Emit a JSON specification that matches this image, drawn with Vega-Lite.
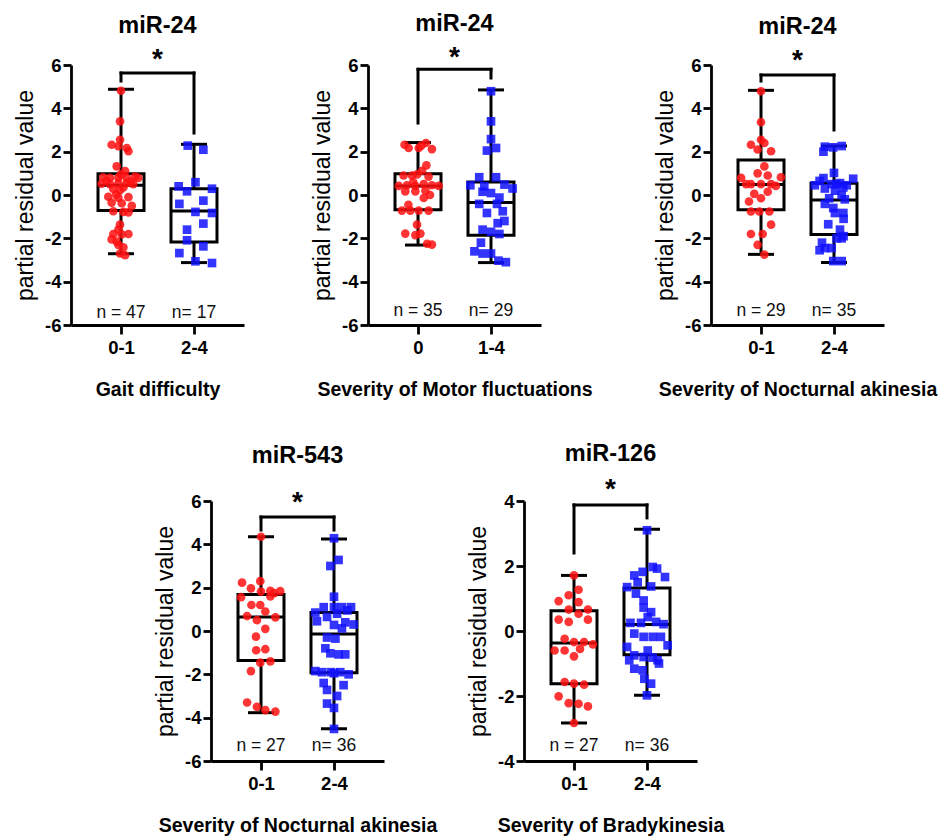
{
"$schema":"https://vega.github.io/schema/vega-lite/v6.json",
"padding":{"left":14,"top":11,"right":5,"bottom":2},
"background":"white",
"config":{
 "view":{"stroke":null},
 "font":"Liberation Sans",
 "axis":{"grid":false,"domainColor":"black","domainWidth":2.8,"tickColor":"black","tickWidth":2.8,"tickSize":8,"labelFont":"Liberation Sans","labelFontWeight":"bold","labelFontSize":18.5,"labelColor":"black","titleFont":"Liberation Sans","titleColor":"black","labelPadding":2},
 "axisY":{"titleFontWeight":"normal","titleFontSize":23,"titlePadding":7,"labelExpr":"replace(datum.label, '\u2212', '-')"},
 "axisX":{"titleFontWeight":"bold","titleFontSize":19.5,"labelAngle":0,"tickSize":9,"labelPadding":4,"titlePadding":24},
 "title":{"font":"Liberation Sans","fontSize":23.5,"fontWeight":"bold","color":"black","anchor":"middle","frame":"group","offset":9}
},
"datasets":{
"pts":[
{"p":1,"g":"0-1","v":4.81,"j":0},{"p":1,"g":"0-1","v":3.40,"j":-0.04},{"p":1,"g":"0-1","v":2.55,"j":-0.04},{"p":1,"g":"0-1","v":2.32,"j":-0.39},{"p":1,"g":"0-1","v":2.25,"j":-0.11},{"p":1,"g":"0-1","v":2.17,"j":0.24},{"p":1,"g":"0-1","v":2.02,"j":0.31},{"p":1,"g":"0-1","v":1.32,"j":-0.18},{"p":1,"g":"0-1","v":1.10,"j":0.17},{"p":1,"g":"0-1","v":0.82,"j":-0.74},{"p":1,"g":"0-1","v":0.79,"j":-0.46},{"p":1,"g":"0-1","v":0.80,"j":-0.11},{"p":1,"g":"0-1","v":0.78,"j":0.24},{"p":1,"g":"0-1","v":0.85,"j":0.58},{"p":1,"g":"0-1","v":0.79,"j":0.72},{"p":1,"g":"0-1","v":0.95,"j":0.0},{"p":1,"g":"0-1","v":0.52,"j":-0.81},{"p":1,"g":"0-1","v":0.50,"j":-0.46},{"p":1,"g":"0-1","v":0.55,"j":-0.11},{"p":1,"g":"0-1","v":0.55,"j":0.24},{"p":1,"g":"0-1","v":0.50,"j":0.51},{"p":1,"g":"0-1","v":0.62,"j":0.40},{"p":1,"g":"0-1","v":0.65,"j":-0.60},{"p":1,"g":"0-1","v":0.28,"j":-0.32},{"p":1,"g":"0-1","v":0.22,"j":-0.04},{"p":1,"g":"0-1","v":0.35,"j":0.10},{"p":1,"g":"0-1","v":0.02,"j":-0.20},{"p":1,"g":"0-1","v":-0.08,"j":-0.53},{"p":1,"g":"0-1","v":-0.12,"j":-0.11},{"p":1,"g":"0-1","v":-0.10,"j":0.31},{"p":1,"g":"0-1","v":-0.35,"j":-0.39},{"p":1,"g":"0-1","v":-0.38,"j":0.03},{"p":1,"g":"0-1","v":-0.50,"j":0.45},{"p":1,"g":"0-1","v":-0.75,"j":-0.32},{"p":1,"g":"0-1","v":-0.78,"j":0.10},{"p":1,"g":"0-1","v":-0.80,"j":0.31},{"p":1,"g":"0-1","v":-1.37,"j":-0.04},{"p":1,"g":"0-1","v":-1.60,"j":-0.11},{"p":1,"g":"0-1","v":-1.80,"j":-0.32},{"p":1,"g":"0-1","v":-1.82,"j":0.03},{"p":1,"g":"0-1","v":-1.80,"j":0.31},{"p":1,"g":"0-1","v":-2.05,"j":-0.39},{"p":1,"g":"0-1","v":-2.15,"j":-0.18},{"p":1,"g":"0-1","v":-2.30,"j":-0.11},{"p":1,"g":"0-1","v":-2.42,"j":0.10},{"p":1,"g":"0-1","v":-2.70,"j":-0.04},{"p":1,"g":"0-1","v":-2.78,"j":0.17},
{"p":1,"g":"2-4","v":2.28,"j":-0.26},{"p":1,"g":"2-4","v":2.09,"j":0.39},{"p":1,"g":"2-4","v":0.59,"j":0.06},{"p":1,"g":"2-4","v":0.40,"j":-0.64},{"p":1,"g":"2-4","v":0.17,"j":-0.29},{"p":1,"g":"2-4","v":0.29,"j":0.75},{"p":1,"g":"2-4","v":-0.41,"j":-0.61},{"p":1,"g":"2-4","v":-0.26,"j":0.39},{"p":1,"g":"2-4","v":-0.78,"j":0.06},{"p":1,"g":"2-4","v":-0.83,"j":0.75},{"p":1,"g":"2-4","v":-1.32,"j":0.39},{"p":1,"g":"2-4","v":-1.6,"j":-0.29},{"p":1,"g":"2-4","v":-2.09,"j":-0.29},{"p":1,"g":"2-4","v":-2.37,"j":0.39},{"p":1,"g":"2-4","v":-2.68,"j":-0.61},{"p":1,"g":"2-4","v":-3.06,"j":0.06},{"p":1,"g":"2-4","v":-3.14,"j":0.75},
{"p":2,"g":"0","v":2.32,"j":-0.56},{"p":2,"g":"0","v":2.17,"j":-0.39},{"p":2,"g":"0","v":2.17,"j":0.03},{"p":2,"g":"0","v":2.40,"j":0.33},{"p":2,"g":"0","v":2.12,"j":0.58},{"p":2,"g":"0","v":2.28,"j":0.14},{"p":2,"g":"0","v":1.37,"j":0.35},{"p":2,"g":"0","v":1.12,"j":0.17},{"p":2,"g":"0","v":0.9,"j":-0.6},{"p":2,"g":"0","v":0.9,"j":-0.25},{"p":2,"g":"0","v":0.95,"j":-0.04},{"p":2,"g":"0","v":0.85,"j":0.44},{"p":2,"g":"0","v":0.42,"j":-0.8},{"p":2,"g":"0","v":0.45,"j":-0.46},{"p":2,"g":"0","v":0.42,"j":-0.11},{"p":2,"g":"0","v":0.5,"j":0.24},{"p":2,"g":"0","v":0.45,"j":0.58},{"p":2,"g":"0","v":0.42,"j":0.86},{"p":2,"g":"0","v":0.17,"j":-0.53},{"p":2,"g":"0","v":0.17,"j":-0.11},{"p":2,"g":"0","v":0.2,"j":0.31},{"p":2,"g":"0","v":-0.14,"j":0.24},{"p":2,"g":"0","v":-0.72,"j":-0.67},{"p":2,"g":"0","v":-0.72,"j":-0.32},{"p":2,"g":"0","v":-0.72,"j":0.03},{"p":2,"g":"0","v":-0.72,"j":0.44},{"p":2,"g":"0","v":-1.37,"j":-0.04},{"p":2,"g":"0","v":-1.78,"j":-0.53},{"p":2,"g":"0","v":-1.78,"j":0.1},{"p":2,"g":"0","v":-1.85,"j":-0.11},{"p":2,"g":"0","v":-2.29,"j":0.58},{"p":2,"g":"0","v":-2.25,"j":0.38},{"p":2,"g":"0","v":0.6,"j":-0.2},{"p":2,"g":"0","v":0.0,"j":0.5},{"p":2,"g":"0","v":-0.45,"j":-0.4},
{"p":2,"g":"1-4","v":4.79,"j":0},{"p":2,"g":"1-4","v":3.40,"j":0},{"p":2,"g":"1-4","v":2.58,"j":0},{"p":2,"g":"1-4","v":2.17,"j":0.21},{"p":2,"g":"1-4","v":2.05,"j":-0.17},{"p":2,"g":"1-4","v":0.82,"j":-0.49},{"p":2,"g":"1-4","v":0.82,"j":0.21},{"p":2,"g":"1-4","v":0.45,"j":-0.86},{"p":2,"g":"1-4","v":0.40,"j":-0.28},{"p":2,"g":"1-4","v":0.48,"j":0.56},{"p":2,"g":"1-4","v":0.3,"j":0.9},{"p":2,"g":"1-4","v":0.09,"j":0},{"p":2,"g":"1-4","v":0.15,"j":-0.35},{"p":2,"g":"1-4","v":-0.12,"j":0.35},{"p":2,"g":"1-4","v":-0.41,"j":-0.49},{"p":2,"g":"1-4","v":-0.41,"j":0.25},{"p":2,"g":"1-4","v":-0.83,"j":-0.17},{"p":2,"g":"1-4","v":-0.75,"j":0.49},{"p":2,"g":"1-4","v":-1.3,"j":0.28},{"p":2,"g":"1-4","v":-1.6,"j":-0.35},{"p":2,"g":"1-4","v":-1.7,"j":0},{"p":2,"g":"1-4","v":-1.8,"j":0.35},{"p":2,"g":"1-4","v":-2.6,"j":-0.69},{"p":2,"g":"1-4","v":-2.7,"j":-0.35},{"p":2,"g":"1-4","v":-2.7,"j":0},{"p":2,"g":"1-4","v":-3.03,"j":0.31},{"p":2,"g":"1-4","v":-3.1,"j":0.62},{"p":2,"g":"1-4","v":-2.2,"j":-0.42},{"p":2,"g":"1-4","v":-1.2,"j":0.56},
{"p":3,"g":"0-1","v":4.79,"j":0},{"p":3,"g":"0-1","v":3.36,"j":0},{"p":3,"g":"0-1","v":2.55,"j":0},{"p":3,"g":"0-1","v":2.32,"j":-0.42},{"p":3,"g":"0-1","v":2.4,"j":0.14},{"p":3,"g":"0-1","v":2.1,"j":-0.14},{"p":3,"g":"0-1","v":2.02,"j":0.42},{"p":3,"g":"0-1","v":1.32,"j":0.14},{"p":3,"g":"0-1","v":1.0,"j":-0.14},{"p":3,"g":"0-1","v":0.9,"j":0.28},{"p":3,"g":"0-1","v":0.79,"j":-0.83},{"p":3,"g":"0-1","v":0.82,"j":0.83},{"p":3,"g":"0-1","v":0.5,"j":-0.42},{"p":3,"g":"0-1","v":0.5,"j":0},{"p":3,"g":"0-1","v":0.5,"j":0.42},{"p":3,"g":"0-1","v":0.05,"j":-0.28},{"p":3,"g":"0-1","v":0.15,"j":0.28},{"p":3,"g":"0-1","v":-0.15,"j":0},{"p":3,"g":"0-1","v":-0.76,"j":-0.42},{"p":3,"g":"0-1","v":-0.76,"j":-0.07},{"p":3,"g":"0-1","v":-0.76,"j":0.35},{"p":3,"g":"0-1","v":-1.37,"j":0.42},{"p":3,"g":"0-1","v":-1.8,"j":-0.42},{"p":3,"g":"0-1","v":-1.8,"j":0.07},{"p":3,"g":"0-1","v":-2.3,"j":-0.14},{"p":3,"g":"0-1","v":-2.75,"j":0.14},{"p":3,"g":"0-1","v":0.5,"j":-0.62},{"p":3,"g":"0-1","v":0.42,"j":0.62},{"p":3,"g":"0-1","v":-0.3,"j":-0.5},
{"p":3,"g":"2-4","v":2.23,"j":-0.38},{"p":3,"g":"2-4","v":2.2,"j":-0.03},{"p":3,"g":"2-4","v":2.26,"j":0.32},{"p":3,"g":"2-4","v":2.0,"j":-0.44},{"p":3,"g":"2-4","v":1.02,"j":0},{"p":3,"g":"2-4","v":0.45,"j":-0.8},{"p":3,"g":"2-4","v":0.78,"j":-0.44},{"p":3,"g":"2-4","v":0.5,"j":-0.1},{"p":3,"g":"2-4","v":0.55,"j":0.25},{"p":3,"g":"2-4","v":0.75,"j":0.8},{"p":3,"g":"2-4","v":0.45,"j":0.53},{"p":3,"g":"2-4","v":0.3,"j":-0.38},{"p":3,"g":"2-4","v":0.2,"j":0.04},{"p":3,"g":"2-4","v":0.35,"j":0.39},{"p":3,"g":"2-4","v":0.0,"j":0.32},{"p":3,"g":"2-4","v":-0.41,"j":-0.38},{"p":3,"g":"2-4","v":-0.6,"j":-0.03},{"p":3,"g":"2-4","v":-0.83,"j":0.04},{"p":3,"g":"2-4","v":-0.83,"j":0.39},{"p":3,"g":"2-4","v":-1.35,"j":-0.24},{"p":3,"g":"2-4","v":-1.6,"j":0.25},{"p":3,"g":"2-4","v":-2.0,"j":0.11},{"p":3,"g":"2-4","v":-2.0,"j":0.32},{"p":3,"g":"2-4","v":-2.45,"j":-0.38},{"p":3,"g":"2-4","v":-2.45,"j":-0.1},{"p":3,"g":"2-4","v":-2.55,"j":-0.6},{"p":3,"g":"2-4","v":-3.05,"j":-0.03},{"p":3,"g":"2-4","v":-3.05,"j":0.32},{"p":3,"g":"2-4","v":-2.2,"j":-0.5},{"p":3,"g":"2-4","v":-1.9,"j":0.4},{"p":3,"g":"2-4","v":0.65,"j":-0.6},{"p":3,"g":"2-4","v":0.5,"j":0.1},{"p":3,"g":"2-4","v":-0.2,"j":0.45},{"p":3,"g":"2-4","v":-0.15,"j":-0.2},{"p":3,"g":"2-4","v":-1.1,"j":0.4},
{"p":4,"g":"0-1","v":4.35,"j":0},{"p":4,"g":"0-1","v":2.23,"j":-0.79},{"p":4,"g":"0-1","v":2.3,"j":-0.03},{"p":4,"g":"0-1","v":1.97,"j":-0.42},{"p":4,"g":"0-1","v":1.82,"j":0},{"p":4,"g":"0-1","v":1.85,"j":0.39},{"p":4,"g":"0-1","v":1.84,"j":0.8},{"p":4,"g":"0-1","v":1.56,"j":-0.83},{"p":4,"g":"0-1","v":1.6,"j":0.39},{"p":4,"g":"0-1","v":1.2,"j":-0.4},{"p":4,"g":"0-1","v":1.2,"j":-0.03},{"p":4,"g":"0-1","v":0.9,"j":0.18},{"p":4,"g":"0-1","v":0.69,"j":-0.58},{"p":4,"g":"0-1","v":0.63,"j":0.6},{"p":4,"g":"0-1","v":0.5,"j":-0.17},{"p":4,"g":"0-1","v":0.1,"j":0.18},{"p":4,"g":"0-1","v":-0.26,"j":-0.21},{"p":4,"g":"0-1","v":-0.84,"j":0.18},{"p":4,"g":"0-1","v":-1.46,"j":-0.03},{"p":4,"g":"0-1","v":-1.4,"j":0.39},{"p":4,"g":"0-1","v":-1.85,"j":-0.42},{"p":4,"g":"0-1","v":-3.3,"j":-0.58},{"p":4,"g":"0-1","v":-3.5,"j":-0.17},{"p":4,"g":"0-1","v":-3.65,"j":0.18},{"p":4,"g":"0-1","v":-3.72,"j":0.6},{"p":4,"g":"0-1","v":-0.89,"j":-0.2},{"p":4,"g":"0-1","v":1.75,"j":0.55},
{"p":4,"g":"2-4","v":4.28,"j":0},{"p":4,"g":"2-4","v":3.28,"j":0.19},{"p":4,"g":"2-4","v":3.0,"j":-0.15},{"p":4,"g":"2-4","v":1.58,"j":0},{"p":4,"g":"2-4","v":1.1,"j":-0.43},{"p":4,"g":"2-4","v":1.1,"j":0},{"p":4,"g":"2-4","v":1.1,"j":0.33},{"p":4,"g":"2-4","v":1.1,"j":0.71},{"p":4,"g":"2-4","v":0.85,"j":-0.78},{"p":4,"g":"2-4","v":0.65,"j":-0.29},{"p":4,"g":"2-4","v":0.8,"j":0.13},{"p":4,"g":"2-4","v":0.4,"j":0.47},{"p":4,"g":"2-4","v":0.3,"j":0.82},{"p":4,"g":"2-4","v":0.45,"j":-0.71},{"p":4,"g":"2-4","v":0.12,"j":0.33},{"p":4,"g":"2-4","v":0.28,"j":0},{"p":4,"g":"2-4","v":-0.3,"j":-0.29},{"p":4,"g":"2-4","v":-0.35,"j":0.06},{"p":4,"g":"2-4","v":-0.8,"j":-0.36},{"p":4,"g":"2-4","v":-1.03,"j":-0.15},{"p":4,"g":"2-4","v":-1.08,"j":0.19},{"p":4,"g":"2-4","v":-1.08,"j":0.47},{"p":4,"g":"2-4","v":-1.9,"j":-0.5},{"p":4,"g":"2-4","v":-1.9,"j":-0.13},{"p":4,"g":"2-4","v":-1.9,"j":0.26},{"p":4,"g":"2-4","v":-1.85,"j":-0.78},{"p":4,"g":"2-4","v":-2.0,"j":0.61},{"p":4,"g":"2-4","v":-2.72,"j":-0.29},{"p":4,"g":"2-4","v":-3.0,"j":0.13},{"p":4,"g":"2-4","v":-3.35,"j":-0.29},{"p":4,"g":"2-4","v":-3.55,"j":0},{"p":4,"g":"2-4","v":-4.52,"j":0},{"p":4,"g":"2-4","v":-2.4,"j":-0.43},{"p":4,"g":"2-4","v":-2.5,"j":0.4},{"p":4,"g":"2-4","v":0.95,"j":0.55},{"p":4,"g":"2-4","v":-1.95,"j":0.0},
{"p":5,"g":"0-1","v":1.71,"j":0},{"p":5,"g":"0-1","v":1.27,"j":0.19},{"p":5,"g":"0-1","v":1.1,"j":-0.22},{"p":5,"g":"0-1","v":0.92,"j":-0.64},{"p":5,"g":"0-1","v":0.89,"j":0.19},{"p":5,"g":"0-1","v":0.66,"j":-0.22},{"p":5,"g":"0-1","v":0.66,"j":0.58},{"p":5,"g":"0-1","v":0.35,"j":-0.64},{"p":5,"g":"0-1","v":0.28,"j":-0.22},{"p":5,"g":"0-1","v":0.53,"j":0.19},{"p":5,"g":"0-1","v":0.35,"j":0.58},{"p":5,"g":"0-1","v":-0.24,"j":-0.39},{"p":5,"g":"0-1","v":-0.34,"j":0},{"p":5,"g":"0-1","v":-0.34,"j":0.42},{"p":5,"g":"0-1","v":-0.41,"j":0.79},{"p":5,"g":"0-1","v":-0.6,"j":-0.81},{"p":5,"g":"0-1","v":-0.6,"j":-0.39},{"p":5,"g":"0-1","v":-0.78,"j":0},{"p":5,"g":"0-1","v":-1.57,"j":-0.39},{"p":5,"g":"0-1","v":-1.65,"j":0.42},{"p":5,"g":"0-1","v":-2.01,"j":-0.64},{"p":5,"g":"0-1","v":-2.22,"j":-0.22},{"p":5,"g":"0-1","v":-2.24,"j":0.19},{"p":5,"g":"0-1","v":-2.32,"j":0.58},{"p":5,"g":"0-1","v":-2.83,"j":0},{"p":5,"g":"0-1","v":-1.62,"j":0},{"p":5,"g":"0-1","v":-0.55,"j":0.25},
{"p":5,"g":"2-4","v":3.1,"j":0},{"p":5,"g":"2-4","v":1.71,"j":-0.53},{"p":5,"g":"2-4","v":1.82,"j":-0.18},{"p":5,"g":"2-4","v":1.97,"j":0.24},{"p":5,"g":"2-4","v":1.92,"j":0.42},{"p":5,"g":"2-4","v":1.66,"j":0.75},{"p":5,"g":"2-4","v":1.35,"j":-0.83},{"p":5,"g":"2-4","v":1.37,"j":0.17},{"p":5,"g":"2-4","v":1.15,"j":-0.46},{"p":5,"g":"2-4","v":0.94,"j":-0.14},{"p":5,"g":"2-4","v":0.72,"j":-0.14},{"p":5,"g":"2-4","v":0.58,"j":0.17},{"p":5,"g":"2-4","v":0.43,"j":0.03},{"p":5,"g":"2-4","v":0.25,"j":-0.69},{"p":5,"g":"2-4","v":0.25,"j":-0.25},{"p":5,"g":"2-4","v":0.28,"j":0.38},{"p":5,"g":"2-4","v":0.21,"j":0.69},{"p":5,"g":"2-4","v":-0.08,"j":-0.53},{"p":5,"g":"2-4","v":-0.18,"j":-0.14},{"p":5,"g":"2-4","v":-0.18,"j":0.24},{"p":5,"g":"2-4","v":-0.18,"j":0.58},{"p":5,"g":"2-4","v":-0.44,"j":0.86},{"p":5,"g":"2-4","v":-0.49,"j":-0.83},{"p":5,"g":"2-4","v":-0.75,"j":-0.53},{"p":5,"g":"2-4","v":-0.8,"j":-0.14},{"p":5,"g":"2-4","v":-0.82,"j":0.24},{"p":5,"g":"2-4","v":-0.9,"j":0.44},{"p":5,"g":"2-4","v":-1.16,"j":-0.53},{"p":5,"g":"2-4","v":-1.21,"j":-0.18},{"p":5,"g":"2-4","v":-1.47,"j":-0.11},{"p":5,"g":"2-4","v":-1.62,"j":0.17},{"p":5,"g":"2-4","v":-1.98,"j":0},{"p":5,"g":"2-4","v":1.5,"j":-0.39},{"p":5,"g":"2-4","v":-1.0,"j":0.5},{"p":5,"g":"2-4","v":-0.6,"j":0.03},{"p":5,"g":"2-4","v":-0.9,"j":-0.74}
],
"box":[
{"p":1,"g":"0-1","min":-2.71,"q1":-0.71,"med":0.45,"q3":0.98,"max":4.88},
{"p":1,"g":"2-4","min":-3.12,"q1":-2.17,"med":-0.74,"q3":0.29,"max":2.34},
{"p":2,"g":"0","min":-2.31,"q1":-0.68,"med":0.42,"q3":0.98,"max":2.42},
{"p":2,"g":"1-4","min":-3.12,"q1":-1.86,"med":-0.35,"q3":0.6,"max":4.85},
{"p":3,"g":"0-1","min":-2.74,"q1":-0.68,"med":0.49,"q3":1.62,"max":4.83},
{"p":3,"g":"2-4","min":-3.12,"q1":-1.82,"med":-0.23,"q3":0.54,"max":2.26},
{"p":4,"g":"0-1","min":-3.77,"q1":-1.36,"med":0.65,"q3":1.69,"max":4.35},
{"p":4,"g":"2-4","min":-4.51,"q1":-1.93,"med":-0.14,"q3":0.85,"max":4.25},
{"p":5,"g":"0-1","min":-2.83,"q1":-1.62,"med":-0.37,"q3":0.62,"max":1.71},
{"p":5,"g":"2-4","min":-1.98,"q1":-0.73,"med":0.2,"q3":1.32,"max":3.13}
],
"brk":[
{"p":1,"a":"0-1","b":"2-4","top":5.63,"la":5.26,"lb":2.86,"s":6.5},
{"p":2,"a":"0","b":"1-4","top":5.8,"la":3.32,"lb":5.4,"s":6.6},
{"p":3,"a":"0-1","b":"2-4","top":5.54,"la":5.26,"lb":3.0,"s":6.46},
{"p":4,"a":"0-1","b":"2-4","top":5.26,"la":4.66,"lb":4.66,"s":6.18},
{"p":5,"a":"0-1","b":"2-4","top":3.88,"la":2.4,"lb":3.48,"s":4.52}
],
"lab":[
{"p":1,"g":"0-1","t":"n = 47","y":-5.3},{"p":1,"g":"2-4","t":"n= 17","y":-5.3},
{"p":2,"g":"0","t":"n = 35","y":-5.2},{"p":2,"g":"1-4","t":"n= 29","y":-5.2},
{"p":3,"g":"0-1","t":"n = 29","y":-5.2},{"p":3,"g":"2-4","t":"n= 35","y":-5.2},
{"p":4,"g":"0-1","t":"n = 27","y":-5.17},{"p":4,"g":"2-4","t":"n= 36","y":-5.17},
{"p":5,"g":"0-1","t":"n = 27","y":-3.45},{"p":5,"g":"2-4","t":"n= 36","y":-3.45}
]
},
"vconcat":[
{"hconcat":[
 {"width":173,"height":260,"title":{"text":"miR-24"},
  "encoding":{"x":{"field":"g","type":"nominal","scale":{"type":"point","padding":0.685},"axis":{"title":"Gait difficulty"}}},
  "layer":[
   {"data":{"name":"box"},"transform":[{"filter":"datum.p==1"}],"mark":{"type":"rule","strokeWidth":3,"color":"black"},"encoding":{"y":{"field":"min","type":"quantitative","scale":{"domain":[-6,6],"nice":false},"axis":{"title":"partial residual value","values":[-6,-4,-2,0,2,4,6]}},"y2":{"field":"max"}}},
   {"data":{"name":"box"},"transform":[{"filter":"datum.p==1"}],"mark":{"type":"bar","size":46,"fill":"white","stroke":"black","strokeWidth":3},"encoding":{"y":{"field":"q1","type":"quantitative"},"y2":{"field":"q3"}}},
   {"data":{"name":"box"},"transform":[{"filter":"datum.p==1"}],"mark":{"type":"tick","size":46,"thickness":3,"color":"black","opacity":1},"encoding":{"y":{"field":"med","type":"quantitative"}}},
   {"data":{"name":"box"},"transform":[{"filter":"datum.p==1"}],"mark":{"type":"tick","size":26,"thickness":3,"color":"black","opacity":1},"encoding":{"y":{"field":"min","type":"quantitative"}}},
   {"data":{"name":"box"},"transform":[{"filter":"datum.p==1"}],"mark":{"type":"tick","size":26,"thickness":3,"color":"black","opacity":1},"encoding":{"y":{"field":"max","type":"quantitative"}}},
   {"data":{"name":"pts"},"transform":[{"filter":"datum.p==1"}],"mark":{"type":"point","filled":true,"size":75,"opacity":0.85,"strokeWidth":0},"encoding":{"y":{"field":"v","type":"quantitative"},"xOffset":{"field":"j","type":"quantitative","scale":{"domain":[-1,1],"range":[-24,24]}},"color":{"field":"g","type":"nominal","scale":{"domain":["0","0-1","1-4","2-4"],"range":["#ff1010","#ff1010","#1010ff","#1010ff"]},"legend":null},"shape":{"field":"g","type":"nominal","scale":{"domain":["0","0-1","1-4","2-4"],"range":["circle","circle","square","square"]},"legend":null}}},
   {"data":{"name":"brk"},"transform":[{"filter":"datum.p==1"}],"mark":{"type":"rule","strokeWidth":3,"color":"black","strokeCap":"square"},"encoding":{"x":{"field":"a","type":"nominal"},"x2":{"field":"b"},"y":{"field":"top","type":"quantitative"}}},
   {"data":{"name":"brk"},"transform":[{"filter":"datum.p==1"}],"mark":{"type":"rule","strokeWidth":3,"color":"black","strokeCap":"square"},"encoding":{"x":{"field":"a","type":"nominal"},"y":{"field":"top","type":"quantitative"},"y2":{"field":"la"}}},
   {"data":{"name":"brk"},"transform":[{"filter":"datum.p==1"}],"mark":{"type":"rule","strokeWidth":3,"color":"black","strokeCap":"square"},"encoding":{"x":{"field":"b","type":"nominal"},"y":{"field":"top","type":"quantitative"},"y2":{"field":"lb"}}},
   {"data":{"name":"brk"},"transform":[{"filter":"datum.p==1"}],"mark":{"type":"text","text":"*","fontSize":28,"fontWeight":"bold","dx":36.5,"dy":6,"baseline":"middle","color":"black"},"encoding":{"x":{"field":"a","type":"nominal"},"y":{"field":"s","type":"quantitative"}}},
   {"data":{"name":"lab"},"transform":[{"filter":"datum.p==1"}],"mark":{"type":"text","fontSize":17.5,"color":"#111","baseline":"middle","dy":3},"encoding":{"x":{"field":"g","type":"nominal"},"y":{"field":"y","type":"quantitative"},"text":{"field":"t"}}}
  ]},
 {"hconcat":[
  {"width":173,"height":260,"title":{"text":"miR-24"},
   "encoding":{"x":{"field":"g","type":"nominal","scale":{"type":"point","padding":0.685},"axis":{"title":"Severity of Motor fluctuations"}}},
   "layer":[
    {"data":{"name":"box"},"transform":[{"filter":"datum.p==2"}],"mark":{"type":"rule","strokeWidth":3,"color":"black"},"encoding":{"y":{"field":"min","type":"quantitative","scale":{"domain":[-6,6],"nice":false},"axis":{"title":"partial residual value","values":[-6,-4,-2,0,2,4,6]}},"y2":{"field":"max"}}},
    {"data":{"name":"box"},"transform":[{"filter":"datum.p==2"}],"mark":{"type":"bar","size":46,"fill":"white","stroke":"black","strokeWidth":3},"encoding":{"y":{"field":"q1","type":"quantitative"},"y2":{"field":"q3"}}},
    {"data":{"name":"box"},"transform":[{"filter":"datum.p==2"}],"mark":{"type":"tick","size":46,"thickness":3,"color":"black","opacity":1},"encoding":{"y":{"field":"med","type":"quantitative"}}},
    {"data":{"name":"box"},"transform":[{"filter":"datum.p==2"}],"mark":{"type":"tick","size":26,"thickness":3,"color":"black","opacity":1},"encoding":{"y":{"field":"min","type":"quantitative"}}},
    {"data":{"name":"box"},"transform":[{"filter":"datum.p==2"}],"mark":{"type":"tick","size":26,"thickness":3,"color":"black","opacity":1},"encoding":{"y":{"field":"max","type":"quantitative"}}},
    {"data":{"name":"pts"},"transform":[{"filter":"datum.p==2"}],"mark":{"type":"point","filled":true,"size":75,"opacity":0.85,"strokeWidth":0},"encoding":{"y":{"field":"v","type":"quantitative"},"xOffset":{"field":"j","type":"quantitative","scale":{"domain":[-1,1],"range":[-24,24]}},"color":{"field":"g","type":"nominal","scale":{"domain":["0","0-1","1-4","2-4"],"range":["#ff1010","#ff1010","#1010ff","#1010ff"]},"legend":null},"shape":{"field":"g","type":"nominal","scale":{"domain":["0","0-1","1-4","2-4"],"range":["circle","circle","square","square"]},"legend":null}}},
    {"data":{"name":"brk"},"transform":[{"filter":"datum.p==2"}],"mark":{"type":"rule","strokeWidth":3,"color":"black","strokeCap":"square"},"encoding":{"x":{"field":"a","type":"nominal"},"x2":{"field":"b"},"y":{"field":"top","type":"quantitative"}}},
    {"data":{"name":"brk"},"transform":[{"filter":"datum.p==2"}],"mark":{"type":"rule","strokeWidth":3,"color":"black","strokeCap":"square"},"encoding":{"x":{"field":"a","type":"nominal"},"y":{"field":"top","type":"quantitative"},"y2":{"field":"la"}}},
    {"data":{"name":"brk"},"transform":[{"filter":"datum.p==2"}],"mark":{"type":"rule","strokeWidth":3,"color":"black","strokeCap":"square"},"encoding":{"x":{"field":"b","type":"nominal"},"y":{"field":"top","type":"quantitative"},"y2":{"field":"lb"}}},
    {"data":{"name":"brk"},"transform":[{"filter":"datum.p==2"}],"mark":{"type":"text","text":"*","fontSize":28,"fontWeight":"bold","dx":36.5,"dy":6,"baseline":"middle","color":"black"},"encoding":{"x":{"field":"a","type":"nominal"},"y":{"field":"s","type":"quantitative"}}},
    {"data":{"name":"lab"},"transform":[{"filter":"datum.p==2"}],"mark":{"type":"text","fontSize":17.5,"color":"#111","baseline":"middle","dy":3},"encoding":{"x":{"field":"g","type":"nominal"},"y":{"field":"y","type":"quantitative"},"text":{"field":"t"}}}
   ]},
  {"width":173,"height":260,"title":{"text":"miR-24"},
   "encoding":{"x":{"field":"g","type":"nominal","scale":{"type":"point","padding":0.685},"axis":{"title":"Severity of Nocturnal akinesia"}}},
   "layer":[
    {"data":{"name":"box"},"transform":[{"filter":"datum.p==3"}],"mark":{"type":"rule","strokeWidth":3,"color":"black"},"encoding":{"y":{"field":"min","type":"quantitative","scale":{"domain":[-6,6],"nice":false},"axis":{"title":"partial residual value","values":[-6,-4,-2,0,2,4,6]}},"y2":{"field":"max"}}},
    {"data":{"name":"box"},"transform":[{"filter":"datum.p==3"}],"mark":{"type":"bar","size":46,"fill":"white","stroke":"black","strokeWidth":3},"encoding":{"y":{"field":"q1","type":"quantitative"},"y2":{"field":"q3"}}},
    {"data":{"name":"box"},"transform":[{"filter":"datum.p==3"}],"mark":{"type":"tick","size":46,"thickness":3,"color":"black","opacity":1},"encoding":{"y":{"field":"med","type":"quantitative"}}},
    {"data":{"name":"box"},"transform":[{"filter":"datum.p==3"}],"mark":{"type":"tick","size":26,"thickness":3,"color":"black","opacity":1},"encoding":{"y":{"field":"min","type":"quantitative"}}},
    {"data":{"name":"box"},"transform":[{"filter":"datum.p==3"}],"mark":{"type":"tick","size":26,"thickness":3,"color":"black","opacity":1},"encoding":{"y":{"field":"max","type":"quantitative"}}},
    {"data":{"name":"pts"},"transform":[{"filter":"datum.p==3"}],"mark":{"type":"point","filled":true,"size":75,"opacity":0.85,"strokeWidth":0},"encoding":{"y":{"field":"v","type":"quantitative"},"xOffset":{"field":"j","type":"quantitative","scale":{"domain":[-1,1],"range":[-24,24]}},"color":{"field":"g","type":"nominal","scale":{"domain":["0","0-1","1-4","2-4"],"range":["#ff1010","#ff1010","#1010ff","#1010ff"]},"legend":null},"shape":{"field":"g","type":"nominal","scale":{"domain":["0","0-1","1-4","2-4"],"range":["circle","circle","square","square"]},"legend":null}}},
    {"data":{"name":"brk"},"transform":[{"filter":"datum.p==3"}],"mark":{"type":"rule","strokeWidth":3,"color":"black","strokeCap":"square"},"encoding":{"x":{"field":"a","type":"nominal"},"x2":{"field":"b"},"y":{"field":"top","type":"quantitative"}}},
    {"data":{"name":"brk"},"transform":[{"filter":"datum.p==3"}],"mark":{"type":"rule","strokeWidth":3,"color":"black","strokeCap":"square"},"encoding":{"x":{"field":"a","type":"nominal"},"y":{"field":"top","type":"quantitative"},"y2":{"field":"la"}}},
    {"data":{"name":"brk"},"transform":[{"filter":"datum.p==3"}],"mark":{"type":"rule","strokeWidth":3,"color":"black","strokeCap":"square"},"encoding":{"x":{"field":"b","type":"nominal"},"y":{"field":"top","type":"quantitative"},"y2":{"field":"lb"}}},
    {"data":{"name":"brk"},"transform":[{"filter":"datum.p==3"}],"mark":{"type":"text","text":"*","fontSize":28,"fontWeight":"bold","dx":36.5,"dy":6,"baseline":"middle","color":"black"},"encoding":{"x":{"field":"a","type":"nominal"},"y":{"field":"s","type":"quantitative"}}},
    {"data":{"name":"lab"},"transform":[{"filter":"datum.p==3"}],"mark":{"type":"text","fontSize":17.5,"color":"#111","baseline":"middle","dy":3},"encoding":{"x":{"field":"g","type":"nominal"},"y":{"field":"y","type":"quantitative"},"text":{"field":"t"}}}
   ]}
 ],"spacing":170,"bounds":"flush"}
],"spacing":124,"bounds":"flush"},
{"hconcat":[
 {"width":140,"height":10,"data":{"values":[{"a":1}]},"mark":{"type":"point","opacity":0},"encoding":{}},
 {"hconcat":[
  {"width":173,"height":260,"title":{"text":"miR-543","offset":22},
   "encoding":{"x":{"field":"g","type":"nominal","scale":{"type":"point","padding":0.685},"axis":{"title":"Severity of Nocturnal akinesia"}}},
   "layer":[
    {"data":{"name":"box"},"transform":[{"filter":"datum.p==4"}],"mark":{"type":"rule","strokeWidth":3,"color":"black"},"encoding":{"y":{"field":"min","type":"quantitative","scale":{"domain":[-6,6],"nice":false},"axis":{"title":"partial residual value","values":[-6,-4,-2,0,2,4,6]}},"y2":{"field":"max"}}},
    {"data":{"name":"box"},"transform":[{"filter":"datum.p==4"}],"mark":{"type":"bar","size":46,"fill":"white","stroke":"black","strokeWidth":3},"encoding":{"y":{"field":"q1","type":"quantitative"},"y2":{"field":"q3"}}},
    {"data":{"name":"box"},"transform":[{"filter":"datum.p==4"}],"mark":{"type":"tick","size":46,"thickness":3,"color":"black","opacity":1},"encoding":{"y":{"field":"med","type":"quantitative"}}},
    {"data":{"name":"box"},"transform":[{"filter":"datum.p==4"}],"mark":{"type":"tick","size":26,"thickness":3,"color":"black","opacity":1},"encoding":{"y":{"field":"min","type":"quantitative"}}},
    {"data":{"name":"box"},"transform":[{"filter":"datum.p==4"}],"mark":{"type":"tick","size":26,"thickness":3,"color":"black","opacity":1},"encoding":{"y":{"field":"max","type":"quantitative"}}},
    {"data":{"name":"pts"},"transform":[{"filter":"datum.p==4"}],"mark":{"type":"point","filled":true,"size":75,"opacity":0.85,"strokeWidth":0},"encoding":{"y":{"field":"v","type":"quantitative"},"xOffset":{"field":"j","type":"quantitative","scale":{"domain":[-1,1],"range":[-24,24]}},"color":{"field":"g","type":"nominal","scale":{"domain":["0","0-1","1-4","2-4"],"range":["#ff1010","#ff1010","#1010ff","#1010ff"]},"legend":null},"shape":{"field":"g","type":"nominal","scale":{"domain":["0","0-1","1-4","2-4"],"range":["circle","circle","square","square"]},"legend":null}}},
    {"data":{"name":"brk"},"transform":[{"filter":"datum.p==4"}],"mark":{"type":"rule","strokeWidth":3,"color":"black","strokeCap":"square"},"encoding":{"x":{"field":"a","type":"nominal"},"x2":{"field":"b"},"y":{"field":"top","type":"quantitative"}}},
    {"data":{"name":"brk"},"transform":[{"filter":"datum.p==4"}],"mark":{"type":"rule","strokeWidth":3,"color":"black","strokeCap":"square"},"encoding":{"x":{"field":"a","type":"nominal"},"y":{"field":"top","type":"quantitative"},"y2":{"field":"la"}}},
    {"data":{"name":"brk"},"transform":[{"filter":"datum.p==4"}],"mark":{"type":"rule","strokeWidth":3,"color":"black","strokeCap":"square"},"encoding":{"x":{"field":"b","type":"nominal"},"y":{"field":"top","type":"quantitative"},"y2":{"field":"lb"}}},
    {"data":{"name":"brk"},"transform":[{"filter":"datum.p==4"}],"mark":{"type":"text","text":"*","fontSize":28,"fontWeight":"bold","dx":36.5,"dy":6,"baseline":"middle","color":"black"},"encoding":{"x":{"field":"a","type":"nominal"},"y":{"field":"s","type":"quantitative"}}},
    {"data":{"name":"lab"},"transform":[{"filter":"datum.p==4"}],"mark":{"type":"text","fontSize":17.5,"color":"#111","baseline":"middle","dy":3},"encoding":{"x":{"field":"g","type":"nominal"},"y":{"field":"y","type":"quantitative"},"text":{"field":"t"}}}
   ]},
  {"width":173,"height":260,"title":{"text":"miR-126","offset":11},
   "encoding":{"x":{"field":"g","type":"nominal","scale":{"type":"point","padding":0.685},"axis":{"title":"Severity of Bradykinesia"}}},
   "layer":[
    {"data":{"name":"box"},"transform":[{"filter":"datum.p==5"}],"mark":{"type":"rule","strokeWidth":3,"color":"black"},"encoding":{"y":{"field":"min","type":"quantitative","scale":{"domain":[-4,4],"nice":false},"axis":{"title":"partial residual value","values":[-4,-2,0,2,4]}},"y2":{"field":"max"}}},
    {"data":{"name":"box"},"transform":[{"filter":"datum.p==5"}],"mark":{"type":"bar","size":46,"fill":"white","stroke":"black","strokeWidth":3},"encoding":{"y":{"field":"q1","type":"quantitative"},"y2":{"field":"q3"}}},
    {"data":{"name":"box"},"transform":[{"filter":"datum.p==5"}],"mark":{"type":"tick","size":46,"thickness":3,"color":"black","opacity":1},"encoding":{"y":{"field":"med","type":"quantitative"}}},
    {"data":{"name":"box"},"transform":[{"filter":"datum.p==5"}],"mark":{"type":"tick","size":26,"thickness":3,"color":"black","opacity":1},"encoding":{"y":{"field":"min","type":"quantitative"}}},
    {"data":{"name":"box"},"transform":[{"filter":"datum.p==5"}],"mark":{"type":"tick","size":26,"thickness":3,"color":"black","opacity":1},"encoding":{"y":{"field":"max","type":"quantitative"}}},
    {"data":{"name":"pts"},"transform":[{"filter":"datum.p==5"}],"mark":{"type":"point","filled":true,"size":75,"opacity":0.85,"strokeWidth":0},"encoding":{"y":{"field":"v","type":"quantitative"},"xOffset":{"field":"j","type":"quantitative","scale":{"domain":[-1,1],"range":[-24,24]}},"color":{"field":"g","type":"nominal","scale":{"domain":["0","0-1","1-4","2-4"],"range":["#ff1010","#ff1010","#1010ff","#1010ff"]},"legend":null},"shape":{"field":"g","type":"nominal","scale":{"domain":["0","0-1","1-4","2-4"],"range":["circle","circle","square","square"]},"legend":null}}},
    {"data":{"name":"brk"},"transform":[{"filter":"datum.p==5"}],"mark":{"type":"rule","strokeWidth":3,"color":"black","strokeCap":"square"},"encoding":{"x":{"field":"a","type":"nominal"},"x2":{"field":"b"},"y":{"field":"top","type":"quantitative"}}},
    {"data":{"name":"brk"},"transform":[{"filter":"datum.p==5"}],"mark":{"type":"rule","strokeWidth":3,"color":"black","strokeCap":"square"},"encoding":{"x":{"field":"a","type":"nominal"},"y":{"field":"top","type":"quantitative"},"y2":{"field":"la"}}},
    {"data":{"name":"brk"},"transform":[{"filter":"datum.p==5"}],"mark":{"type":"rule","strokeWidth":3,"color":"black","strokeCap":"square"},"encoding":{"x":{"field":"b","type":"nominal"},"y":{"field":"top","type":"quantitative"},"y2":{"field":"lb"}}},
    {"data":{"name":"brk"},"transform":[{"filter":"datum.p==5"}],"mark":{"type":"text","text":"*","fontSize":28,"fontWeight":"bold","dx":36.5,"dy":6,"baseline":"middle","color":"black"},"encoding":{"x":{"field":"a","type":"nominal"},"y":{"field":"s","type":"quantitative"}}},
    {"data":{"name":"lab"},"transform":[{"filter":"datum.p==5"}],"mark":{"type":"text","fontSize":17.5,"color":"#111","baseline":"middle","dy":3},"encoding":{"x":{"field":"g","type":"nominal"},"y":{"field":"y","type":"quantitative"},"text":{"field":"t"}}}
   ]}
 ],"spacing":140,"bounds":"flush"}
],"spacing":0,"bounds":"flush"}
],"spacing":42,"bounds":"full"
}
